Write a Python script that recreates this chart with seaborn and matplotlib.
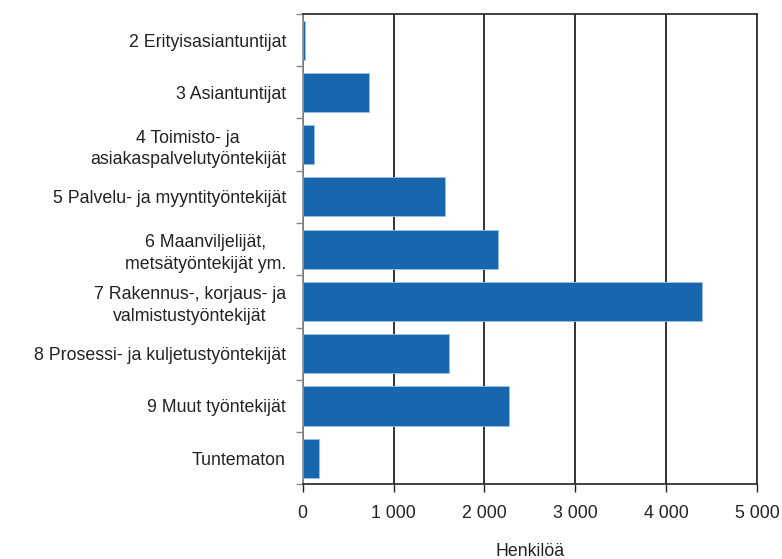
import pandas as pd
import numpy as np
import matplotlib
matplotlib.use("Agg")
import matplotlib.pyplot as plt
import seaborn as sns
from matplotlib.ticker import FuncFormatter, FixedLocator

# ----------------------------
# Data
# ----------------------------
categories = [
    "2 Erityisasiantuntijat",
    "3 Asiantuntijat",
    "4 Toimisto- ja\nasiakaspalvelutyöntekijät",
    "5 Palvelu- ja myyntityöntekijät",
    "6 Maanviljelijät,\nmetsätyöntekijät ym.",
    "7 Rakennus-, korjaus- ja\nvalmistustyöntekijät",
    "8 Prosessi- ja kuljetustyöntekijät",
    "9 Muut työntekijät",
    "Tuntematon",
]
values = [25, 726, 127, 1563, 2155, 4390, 1614, 2275, 181]
x_ticks = [0, 1000, 2000, 3000, 4000, 5000]

df = pd.DataFrame({"Ammatti": categories, "Henkilöä": values})

# ----------------------------
# General Settings
# ----------------------------
sns.set_style("white")
plt.rcParams["font.family"] = ["Liberation Sans", "DejaVu Sans"]
plt.rcParams["font.size"] = 12.8

fig = plt.figure(figsize=(7.82, 5.59), dpi=100)
ax = fig.add_axes([0.387, 0.1336, 0.581, 0.8414])

sns.barplot(
    data=df, y="Ammatti", x="Henkilöä", orient="h",
    color="#1867ae", saturation=1, width=0.75,
    edgecolor="#9cc0e4", linewidth=0.6, ax=ax,
)

ax.set_xlim(0, 5000)
ax.set_ylim(len(categories) - 0.5, -0.5)
ax.xaxis.set_major_locator(FixedLocator(x_ticks))
ax.xaxis.set_major_formatter(
    FuncFormatter(lambda v, p: f"{int(v):,}".replace(",", " "))
)
ax.grid(axis="x", color="#222222", linewidth=1.3)
ax.set_axisbelow(True)

# category ticks sit on the band boundaries
ax.yaxis.set_minor_locator(FixedLocator(np.arange(-0.5, len(categories), 1)))
ax.tick_params(axis="y", which="major", length=0, pad=12, labelsize=12.8,
               labelcolor="#222222")
ax.tick_params(axis="y", which="minor", length=5, width=1, color="#888888",
               direction="out", left=True)
ax.tick_params(axis="x", which="major", length=6, width=1, color="#222222",
               direction="out", bottom=True, pad=9, labelsize=12.8,
               labelcolor="#222222")

for lbl in ax.get_yticklabels():
    lbl.set_multialignment("center")
    lbl.set_linespacing(1.35)

ax.set_ylabel("")
ax.set_xlabel("Henkilöä", fontsize=12.8, labelpad=15, color="#222222")

for side in ["top", "right", "bottom"]:
    ax.spines[side].set_visible(True)
    ax.spines[side].set_color("#333333")
    ax.spines[side].set_linewidth(1.3)
ax.spines["left"].set_color("#888888")
ax.spines["left"].set_linewidth(1.2)

plt.savefig("out.png", dpi=100)
